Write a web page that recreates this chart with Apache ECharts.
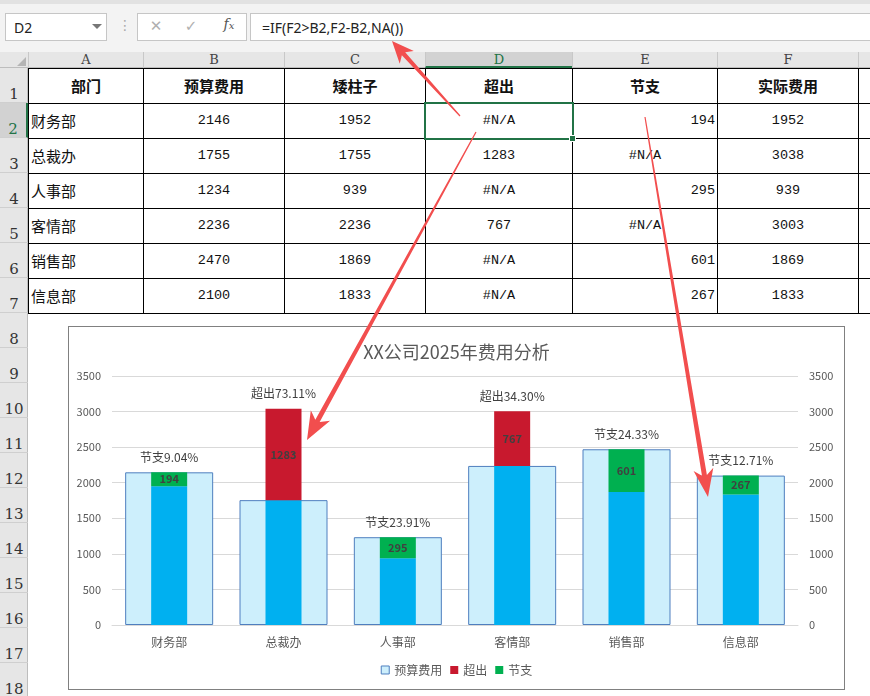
<!DOCTYPE html>
<html><head><meta charset="utf-8">
<script src="https://cdn.jsdelivr.net/npm/echarts@6/dist/echarts.min.js"></script>
<style>
body{margin:0;width:870px;height:696px;overflow:hidden;background:#fff;font-family:"Noto Sans CJK SC",sans-serif;position:relative}
.a{position:absolute;box-sizing:border-box}
</style></head><body>
<div id="sheet"></div>
<div class="a" style="left:68px;top:326px;width:777px;height:364px;border:1px solid #808080;background:#fff">
  <div id="chart" style="width:775px;height:362px"></div>
</div>
<svg id="arrows" class="a" style="left:0;top:0;z-index:20" width="870" height="696"></svg>
<script>
// ---- data ----
const departments = ['财务部','总裁办','人事部','客情部','销售部','信息部'];
const budget      = [2146, 1755, 1234, 2236, 2470, 2100];
const shortBar    = [1952, 1755, 939, 2236, 1869, 1833];
const overrun     = [null, 1283, null, 767, null, null];
const saving      = [194, null, 295, null, 601, 267];
const actual      = [1952, 3038, 939, 3003, 1869, 1833];
const headers     = ['部门','预算费用','矮柱子','超出','节支','实际费用'];
const colLetters  = ['A','B','C','D','E','F'];
const formulaText = '=IF(F2>B2,F2-B2,NA())';
const chartTitle  = 'XX公司2025年费用分析';

// ---- sheet ----
const sheet = document.getElementById('sheet');
function el(css, html){const d=document.createElement('div');d.className='a';d.style.cssText=css;if(html!=null)d.innerHTML=html;sheet.appendChild(d);return d;}
const colX=[28,143,284,425,572,717,858,990];
const rowTop=r=>68+(r-1)*35;
// toolbar
el('left:0;top:0;width:870px;height:52px;background:#f3f3f3');
el('left:0;top:0;width:870px;height:4px;background:#e2e2e2');
el('left:5px;top:13px;width:102px;height:28px;background:#fff;border:1px solid #c6c6c6;font:14px "Noto Sans";color:#222;padding:4px 0 0 8px','D2');
el('left:92px;top:24px;width:0;height:0;border-left:5px solid transparent;border-right:5px solid transparent;border-top:5px solid #777');
el('left:118px;top:17px;width:8px;height:20px;color:#aaa;font:14px "DejaVu Sans";text-align:center','⋮');
el('left:137px;top:13px;width:110px;height:28px;background:#fff;border:1px solid #c6c6c6');
el('left:148px;top:17px;width:16px;height:20px;color:#b0b0b0;font:15px "DejaVu Sans";text-align:center','✕');
el('left:183px;top:17px;width:16px;height:20px;color:#b0b0b0;font:15px "DejaVu Sans";text-align:center','✓');
el('left:219px;top:16px;width:20px;height:20px;color:#555;font:italic 14px "DejaVu Serif";text-align:center','<i>f</i><span style="font-size:10px">x</span>');
el('left:250px;top:13px;width:630px;height:28px;background:#fff;border:1px solid #c6c6c6;font:14px "Noto Sans";color:#222;padding:4px 0 0 11px',formulaText);
// column header row
el('left:0;top:52px;width:870px;height:16px;background:#e6e6e6;border-bottom:1px solid #bdbdbd');
el('left:17px;top:57px;width:0;height:0;border-left:9px solid transparent;border-bottom:9px solid #b5b5b5');
for(let c=0;c<7;c++){
  const sel=c===3;
  const letter=c<6?colLetters[c]:'G';
  el(`left:${colX[c]}px;top:52px;width:${colX[c+1]-colX[c]}px;height:16px;border-left:1px solid #c8c8c8;`+
     (sel?'background:#d2d2d2;border-bottom:2px solid #217346;color:#217346;':'color:#444;')+
     'font:13px "DejaVu Serif";text-align:center;line-height:16px',letter);
}
// row headers
el('left:0;top:68px;width:28px;height:640px;background:#e6e6e6;border-right:1px solid #bdbdbd');
for(let r=1;r<=18;r++){
  const sel=r===2;
  el(`left:0;top:${rowTop(r)}px;width:28px;height:35px;border-bottom:1px solid #cfcfcf;`+
     (sel?'background:#d2d2d2;border-right:2px solid #217346;color:#217346;':'color:#333;')+
     'font:15px "DejaVu Serif";text-align:center;padding-top:17px;line-height:18px',String(r));
}
// table cells
const rows=[headers];
for(let i=0;i<departments.length;i++){
  rows.push([departments[i],budget[i],shortBar[i],overrun[i],saving[i],actual[i]]);
}
for(let r=0;r<rows.length;r++){
  for(let c=0;c<6;c++){
    const v=rows[r][c];
    let txt, align, font;
    if(r===0){txt=v;align='center';font='bold 15px "Noto Sans CJK SC"';}
    else if(c===0){txt=v;align='left';font='15px "Noto Sans CJK SC"';}
    else if(v==null){txt='#N/A';align='center';font='13.5px "Liberation Mono"';}
    else {txt=String(v);align=(c===4)?'right':'center';font='13.5px "Liberation Mono"';}
    el(`left:${colX[c]}px;top:${rowTop(r+1)}px;width:${colX[c+1]-colX[c]+1}px;height:36px;border:1px solid #000;`+
       `font:${font};color:#111;text-align:${align};line-height:34px;padding:0 2px`,txt);
  }
  el(`left:858px;top:${rowTop(r+1)}px;width:20px;height:36px;border:1px solid #000`);
}
// selection
el(`left:424px;top:102px;width:150px;height:38px;border:2px solid #217346`);
el(`left:569px;top:135px;width:7px;height:7px;background:#217346;border:1px solid #fff`);

// ---- chart ----
const pct = departments.map((_,i)=> overrun[i]!=null ? '超出'+(overrun[i]/budget[i]*100).toFixed(2)+'%'
                                 : (saving[i]!=null ? '节支'+(saving[i]/budget[i]*100).toFixed(2)+'%' : ''));
const chart = echarts.init(document.getElementById('chart'));
const axisLbl={color:'#595959',fontSize:11,margin:11,formatter:v=>String(v)};
chart.setOption({
  animation:false,
  textStyle:{fontFamily:'"Noto Sans CJK SC", sans-serif'},
  title:{text:chartTitle,left:'center',top:11,textStyle:{fontSize:18,fontWeight:'normal',color:'#595959'}},
  legend:{data:['预算费用','超出','节支'],bottom:8,icon:'rect',itemWidth:8,itemHeight:8,itemGap:8,
          itemStyle:{borderWidth:1},
          textStyle:{fontSize:12,color:'#595959'}},
  grid:{left:43,right:46,top:49,bottom:64},
  xAxis:[
    {type:'category',data:departments,axisLine:{lineStyle:{color:'#d9d9d9'}},axisTick:{show:false},
     axisLabel:{color:'#595959',fontSize:12,margin:11}},
    {type:'category',data:departments,show:false}
  ],
  yAxis:[
    {type:'value',min:0,max:3500,interval:500,axisLabel:axisLbl,axisLine:{show:false},axisTick:{show:false},
     splitLine:{lineStyle:{color:'#d9d9d9'}}},
    {type:'value',min:0,max:3500,interval:500,position:'right',axisLabel:axisLbl,axisLine:{show:false},
     axisTick:{show:false},splitLine:{show:false}}
  ],
  series:[
    {name:'预算费用',type:'bar',data:budget,barWidth:88,xAxisIndex:0,yAxisIndex:0,
     itemStyle:{color:'#CDEFFC',borderColor:'#4F7FBF',borderWidth:1}},
    {name:'矮柱子',type:'bar',stack:'s',data:shortBar,barWidth:36,xAxisIndex:1,yAxisIndex:1,
     itemStyle:{color:'#00B0F0'}},
    {name:'超出',type:'bar',stack:'s',data:overrun.map(v=>v==null?'-':v),barWidth:36,xAxisIndex:1,yAxisIndex:1,
     itemStyle:{color:'#C8192E'},
     label:{show:true,position:'inside',fontWeight:'bold',fontSize:11,color:'#404040'}},
    {name:'节支',type:'bar',stack:'s',data:saving.map(v=>v==null?'-':v),barWidth:36,xAxisIndex:1,yAxisIndex:1,
     itemStyle:{color:'#00B050'},
     label:{show:true,position:'inside',fontWeight:'bold',fontSize:11,color:'#404040'}},
    {name:'标签',type:'bar',stack:'s',data:departments.map(()=>0),barWidth:36,xAxisIndex:1,yAxisIndex:1,
     silent:true,itemStyle:{color:'rgba(0,0,0,0)'},
     label:{show:true,position:'top',distance:9,formatter:p=>pct[p.dataIndex],fontSize:12,color:'#404040'}}
  ]
});

// ---- arrows ----
function arrow(x0,y0,x1,y1,hl,hw,w0,w1){
  const dx=x1-x0,dy=y1-y0,L=Math.hypot(dx,dy),ux=dx/L,uy=dy/L,nx=-uy,ny=ux;
  const bx=x1-ux*hl,by=y1-uy*hl,kx=x1-ux*hl*0.78,ky=y1-uy*hl*0.78;
  const pts=[[x0+nx*w0/2,y0+ny*w0/2],[kx+nx*w1/2,ky+ny*w1/2],[bx+nx*hw/2,by+ny*hw/2],[x1,y1],
             [bx-nx*hw/2,by-ny*hw/2],[kx-nx*w1/2,ky-ny*w1/2],[x0-nx*w0/2,y0-ny*w0/2]];
  const p=document.createElementNS('http://www.w3.org/2000/svg','polygon');
  p.setAttribute('points',pts.map(q=>q.join(',')).join(' '));
  p.setAttribute('fill','#F24E4E');
  document.getElementById('arrows').appendChild(p);
}
arrow(460,116,392,41,22,19,1.2,4.5);
arrow(476,132,307,440,28,22,1.2,5);
arrow(645,117,708,497,28,20,1.2,5);
</script>
</body></html>
